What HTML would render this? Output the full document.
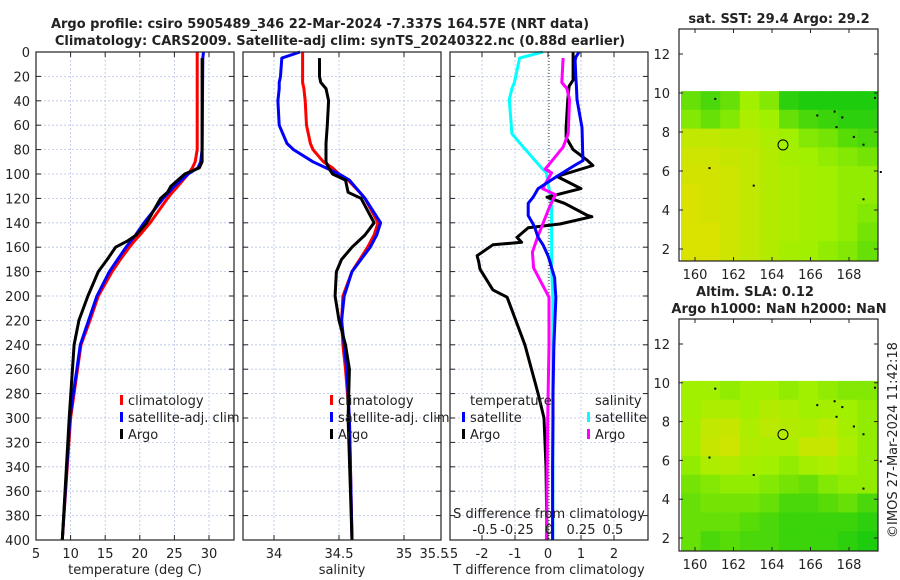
<!DOCTYPE html>
<html><head><meta charset="utf-8"><style>
body{margin:0;background:#fff}
svg{display:block;font-family:"DejaVu Sans","Liberation Sans",sans-serif}
</style></head><body>
<svg id="c" width="900" height="580"></svg>
<script>
const tDepth=[0,5,80,90,95,100,110,115,120,140,150,155,160,170,180,200,220,240,300,400];
const tClim=[28.3,28.3,28.3,28.0,27.6,27.0,25.5,24.7,24.0,21.5,20.0,19.2,18.5,17.2,16.0,14.0,12.8,11.5,10.0,8.8];
const tSat=[29.2,29.1,29.0,28.8,28.4,27.0,25.0,24.2,23.4,20.6,19.4,18.7,18.0,16.8,15.6,13.8,12.6,11.4,9.9,8.8];
const tArgo=[29.0,29.0,29.0,29.0,28.6,26.5,24.5,24.0,23.0,21.0,19.5,18.2,16.5,15.3,14.0,12.5,11.2,10.5,9.8,8.8];
const sDepth=[0,5,20,25,30,40,60,75,80,90,95,100,105,115,120,140,150,160,170,180,200,220,240,260,300,400];
const sClim=[34.22,34.22,34.22,34.22,34.23,34.24,34.25,34.28,34.3,34.38,34.45,34.5,34.57,34.66,34.7,34.8,34.77,34.72,34.66,34.6,34.53,34.52,34.53,34.55,34.58,34.6];
const sSat=[34.2,34.06,34.05,34.04,34.04,34.03,34.04,34.1,34.15,34.3,34.4,34.5,34.58,34.66,34.7,34.82,34.79,34.74,34.67,34.6,34.54,34.52,34.54,34.56,34.58,34.6];
const sArgo=[null,34.35,34.35,34.36,34.4,34.42,34.41,34.4,34.4,34.4,34.42,34.45,34.55,34.57,34.67,34.77,34.7,34.6,34.52,34.48,34.47,34.5,34.55,34.58,34.57,34.6];
const dDepthT=[0,4,7,23,28,39,62,70,80,89,93,102,112,119,124,134,135,141,144,152,156,158,167,172,178,185,195,201,240,280,300,340,400];
const dTSat=[0.94,0.85,0.82,0.85,0.86,0.88,1.03,1.04,1.05,1.06,0.8,0.27,-0.3,-0.45,-0.6,-0.6,-0.58,-0.45,-0.4,-0.3,-0.2,-0.15,0.0,0.06,0.12,0.2,0.22,0.24,0.18,0.15,0.15,0.14,0.14];
const dTArgo=[0.76,0.76,0.76,0.76,0.64,0.6,0.55,0.55,0.76,1.2,1.36,0.27,1.0,-0.03,0.5,1.2,1.33,0.36,-0.6,-0.94,-0.8,-1.67,-2.15,-2.1,-2.06,-1.9,-1.67,-1.24,-0.7,-0.3,-0.12,-0.06,-0.03];
const dDepthS=[0,5,25,30,39,67,78,96,99,112,117,128,152,164,177,201,240,300,400];
const dSSat=[-0.05,-0.23,-0.27,-0.29,-0.31,-0.29,-0.2,-0.05,-0.02,0.0,0.01,0.02,0.02,0.02,0.02,0.03,0.03,0.03,0.03];
const dSArgo=[null,0.11,0.1,0.14,0.16,0.15,0.11,-0.03,0.02,-0.05,0.05,0.0,-0.09,-0.13,-0.12,0.0,0.0,-0.01,-0.02];
const sstGrid=[
[0.3,0.2,0.3,0.5,0.4,0.1,0.05,0.05,0.05,0.05],
[0.4,0.3,0.4,0.6,0.5,0.3,0.2,0.15,0.1,0.1],
[0.75,0.75,0.7,0.7,0.6,0.5,0.4,0.35,0.25,0.2],
[0.85,0.85,0.8,0.75,0.65,0.55,0.5,0.45,0.4,0.35],
[0.9,0.9,0.85,0.75,0.65,0.6,0.55,0.5,0.45,0.45],
[0.95,0.9,0.85,0.75,0.65,0.6,0.55,0.5,0.45,0.45],
[0.95,0.9,0.85,0.75,0.65,0.6,0.55,0.5,0.45,0.4],
[0.95,0.95,0.85,0.75,0.65,0.6,0.55,0.5,0.45,0.35],
[0.95,0.95,0.85,0.75,0.65,0.55,0.5,0.45,0.4,0.3]];
const slaGrid=[
[0.5,0.5,0.45,0.5,0.5,0.45,0.5,0.45,0.4,0.4],
[0.5,0.6,0.6,0.5,0.65,0.6,0.5,0.55,0.5,0.45],
[0.55,0.75,0.8,0.6,0.7,0.65,0.6,0.7,0.55,0.45],
[0.55,0.8,0.85,0.65,0.6,0.6,0.8,0.8,0.6,0.45],
[0.45,0.6,0.65,0.55,0.5,0.45,0.55,0.6,0.5,0.45],
[0.35,0.4,0.45,0.45,0.4,0.35,0.3,0.4,0.45,0.45],
[0.3,0.35,0.35,0.35,0.3,0.2,0.2,0.25,0.3,0.2],
[0.3,0.3,0.3,0.25,0.2,0.15,0.15,0.15,0.15,0.1],
[0.3,0.2,0.25,0.2,0.2,0.15,0.15,0.15,0.1,0.05]];
const depthTicks=[0,20,40,60,80,100,120,140,160,180,200,220,240,260,280,300,320,340,360,380,400];
const tTicks=[5,10,15,20,25,30];
const sTicks=[34,34.5,35,35.5];
const dTTicks=[-2,-1,0,1,2];
const dSTicks=[-0.5,-0.25,0,0.25,0.5];
const latTicks=[2,4,6,8,10,12];
const lonTicks=[160,162,164,166,168];

const NS='http://www.w3.org/2000/svg';
const svg=document.getElementById('c');
function mk(tag,attrs,parent){const e=document.createElementNS(NS,tag);for(const k in attrs)e.setAttribute(k,attrs[k]);(parent||svg).appendChild(e);return e;}
function txt(x,y,s,opt,parent){const e=mk('text',Object.assign({x:x,y:y,'font-size':13,fill:'#222'},opt||{}),parent);e.textContent=s;return e;}
const Y0=52,Y1=540;
const yD=d=>Y0+(Y1-Y0)*d/400;
function panel(name){
  const g=mk('g',{});
  
  
  return g;
}
function grid(g,x0,x1,xs,xf){
  depthTicks.forEach(d=>{if(d>0&&d<400){const l=mk('line',{x1:x0,x2:x1,y1:yD(d),y2:yD(d),stroke:'#b8c4e8','stroke-dasharray':'2,2','stroke-width':0.8},g);}});
  xs.forEach(v=>{const x=xf(v);if(x>x0+1&&x<x1-1){const l=mk('line',{x1:x,x2:x,y1:Y0,y2:Y1,stroke:'#b8c4e8','stroke-dasharray':'2,2','stroke-width':0.8},g);}});
}
function frame(g,x0,x1,xs,xf,ylabels){
  const r=mk('rect',{x:x0,y:Y0,width:x1-x0,height:Y1-Y0,fill:'none',stroke:'#222','stroke-width':1.2},g);
  
  depthTicks.forEach(d=>{mk('line',{x1:x0,x2:x0+5,y1:yD(d),y2:yD(d),stroke:'#222'},g);mk('line',{x1:x1-5,x2:x1,y1:yD(d),y2:yD(d),stroke:'#222'},g);
    if(ylabels){const t=txt(30,yD(d)+5,String(d),{'text-anchor':'end'},g);}});
  xs.forEach(v=>{const x=xf(v);if(x>=x0-1&&x<=x1+1){mk('line',{x1:x,x2:x,y1:Y1,y2:Y1-5,stroke:'#222'},g);mk('line',{x1:x,x2:x,y1:Y0,y2:Y0+5,stroke:'#222'},g);}});
}
function line(g,ys,vs,xf,color,name,w){
  let pts=[];ys.forEach((d,i)=>{if(vs[i]!==null)pts.push(xf(vs[i]).toFixed(1)+','+yD(d).toFixed(1));});
  const p=mk('polyline',{points:pts.join(' '),fill:'none',stroke:color,'stroke-width':w||3,'stroke-linejoin':'round'},g);
  
}
function legend(g,x,y,color,label,name){
  const r=mk('rect',{x:x,y:y-10,width:3,height:10,fill:color},g);
  const t=txt(x+8,y,label,{},g);
  
  
}
const t1=txt(320,28,'Argo profile: csiro 5905489_346 22-Mar-2024 -7.337S 164.57E (NRT data)',{'text-anchor':'middle','font-weight':'bold'});

const t2=txt(340,45,'Climatology: CARS2009. Satellite-adj clim: synTS_20240322.nc (0.88d earlier)',{'text-anchor':'middle','font-weight':'bold'});


{const x0=36,x1=234;const xf=v=>36+(v-5)*6.92;const g=panel('temperature-panel');
grid(g,x0,x1,tTicks,xf);
line(g,tDepth,tClim,xf,'#ff0000','temp-climatology-line');
line(g,tDepth,tSat,xf,'#0000ff','temp-satellite-line');
line(g,tDepth.slice(1),tArgo.slice(1),xf,'#000000','temp-argo-line');
frame(g,x0,x1,tTicks,xf,true);
tTicks.forEach(v=>{const t=txt(xf(v),558,String(v),{'text-anchor':'middle'},g);});
const at=txt(135,574,'temperature (deg C)',{'text-anchor':'middle'},g);
legend(g,120,405,'#ff0000','climatology','legend-climatology');
legend(g,120,422,'#0000ff','satellite-adj. clim','legend-satellite');
legend(g,120,439,'#000000','Argo','legend-argo');}

{const x0=243,x1=441;const xf=v=>274+(v-34)*130;const g=panel('salinity-panel');
grid(g,x0,x1,[34,34.5,35],xf);
line(g,sDepth,sClim,xf,'#ff0000','sal-climatology-line');
line(g,sDepth,sSat,xf,'#0000ff','sal-satellite-line');
line(g,sDepth,sArgo,xf,'#000000','sal-argo-line');
frame(g,x0,x1,[34,34.5,35],xf,false);
sTicks.forEach(v=>{const x=Math.min(xf(v),434);const t=txt(x,558,String(v),{'text-anchor':'middle'},g);});
const at=txt(342,574,'salinity',{'text-anchor':'middle'},g);
legend(g,330,405,'#ff0000','climatology','legend-climatology');
legend(g,330,422,'#0000ff','satellite-adj. clim','legend-satellite');
legend(g,330,439,'#000000','Argo','legend-argo');}

{const x0=450,x1=648;const xf=v=>548+v*33;const sf=v=>549+v*128;const g=panel('difference-panel');
grid(g,x0,x1,dTTicks,xf);
const z=mk('line',{x1:549,x2:549,y1:Y0,y2:Y1,stroke:'#2a4a2a','stroke-dasharray':'1,2','stroke-width':1},g);

line(g,dDepthS,dSSat,sf,'#00ffff','sal-diff-satellite-line');
line(g,dDepthT,dTArgo,xf,'#000000','temp-diff-argo-line');
line(g,dDepthS,dSArgo,sf,'#ff00ff','sal-diff-argo-line');
line(g,dDepthT,dTSat,xf,'#0000ff','temp-diff-satellite-line');
frame(g,x0,x1,dTTicks,xf,false);
dTTicks.forEach(v=>{const t=txt(xf(v),558,String(v),{'text-anchor':'middle'},g);});
const l0=txt(452,558,'.5',{'text-anchor':'middle'},g);
dSTicks.forEach(v=>{const t=txt(sf(v),534,String(v),{'text-anchor':'middle'},g);});
const st=txt(549,518,'S difference from climatology',{'text-anchor':'middle'},g);
const at=txt(549,574,'T difference from climatology',{'text-anchor':'middle'},g);
const h1=txt(470,405,'temperature',{},g);
const h2=txt(595,405,'salinity',{},g);
legend(g,462,422,'#0000ff','satellite','legend-temp-satellite');
legend(g,462,439,'#000000','Argo','legend-temp-argo');
legend(g,587,422,'#00ffff','satellite','legend-sal-satellite');
legend(g,587,439,'#ff00ff','Argo','legend-sal-argo');}

function ramp(v){const a=[16,200,16],b=[160,240,0],c=[224,224,0];let p,q,t;if(v<0.5){p=a;q=b;t=v/0.5;}else{p=b;q=c;t=(v-0.5)/0.5;}return 'rgb('+p.map((x,i)=>Math.round(x+(q[i]-x)*t)).join(',')+')';}
function map(name,top,bot,lat12,lat2,gridData,title1,title2){
  const x0=679,x1=878;const lonf=v=>695+(v-160)*19.25;const latf=v=>lat12+(12-v)*(lat2-lat12)/10;
  const g=panel(name);
  const gx0=681,gx1=877,gy0=latf(10.1),gy1=bot-1;
  const cw=(gx1-gx0)/10,ch=(gy1-gy0)/9;
  gridData.forEach((row,i)=>row.forEach((v,j)=>{const r=mk('rect',{x:(gx0+j*cw).toFixed(1),y:(gy0+i*ch).toFixed(1),width:(cw+0.6).toFixed(1),height:(ch+0.6).toFixed(1),fill:ramp(v)},g);}));
  const c=mk('circle',{cx:lonf(164.57),cy:latf(7.337),r:5,fill:'none',stroke:'#000','stroke-width':1},g);
  
  [[161,9.75],[160.7,6.2],[163,5.3],[166.3,8.9],[167.2,9.1],[167.6,8.8],[167.3,8.3],[168.2,7.8],[168.7,7.4],[169.6,6],[168.7,4.6],[169.3,9.8]].forEach(p=>{const d=mk('rect',{x:lonf(p[0]),y:latf(p[1]),width:2,height:2,fill:'#000'},g);});
  const r=mk('rect',{x:x0,y:top,width:x1-x0,height:bot-top,fill:'none',stroke:'#222','stroke-width':1.2},g);
  
  latTicks.forEach(v=>{const y=latf(v);mk('line',{x1:x0,x2:x0+4,y1:y,y2:y,stroke:'#222'},g);mk('line',{x1:x1-4,x2:x1,y1:y,y2:y,stroke:'#222'},g);const t=txt(670,y+5,String(v),{'text-anchor':'end'},g);});
  lonTicks.forEach(v=>{const x=lonf(v);mk('line',{x1:x,x2:x,y1:bot,y2:bot-4,stroke:'#222'},g);mk('line',{x1:x,x2:x,y1:top,y2:top+4,stroke:'#222'},g);const t=txt(x,bot+18,String(v),{'text-anchor':'middle'},g);});
  if(title1){const t=txt(title1[1],title1[2],title1[0],{'text-anchor':'middle','font-weight':'bold'},g);}
  if(title2){const t=txt(title2[1],title2[2],title2[0],{'text-anchor':'middle','font-weight':'bold'},g);}
}
map('sst-map',29,261,54,249,sstGrid,['sat. SST: 29.4 Argo: 29.2',779,23],null);
map('sla-map',319,551,344,538,slaGrid,['Altim. SLA: 0.12',755,296],['Argo h1000: NaN h2000: NaN',779,313]);
const cr=txt(0,0,'©IMOS 27-Mar-2024 11:42:18',{'text-anchor':'middle',transform:'translate(897,440) rotate(-90)'});

</script>
</body></html>
